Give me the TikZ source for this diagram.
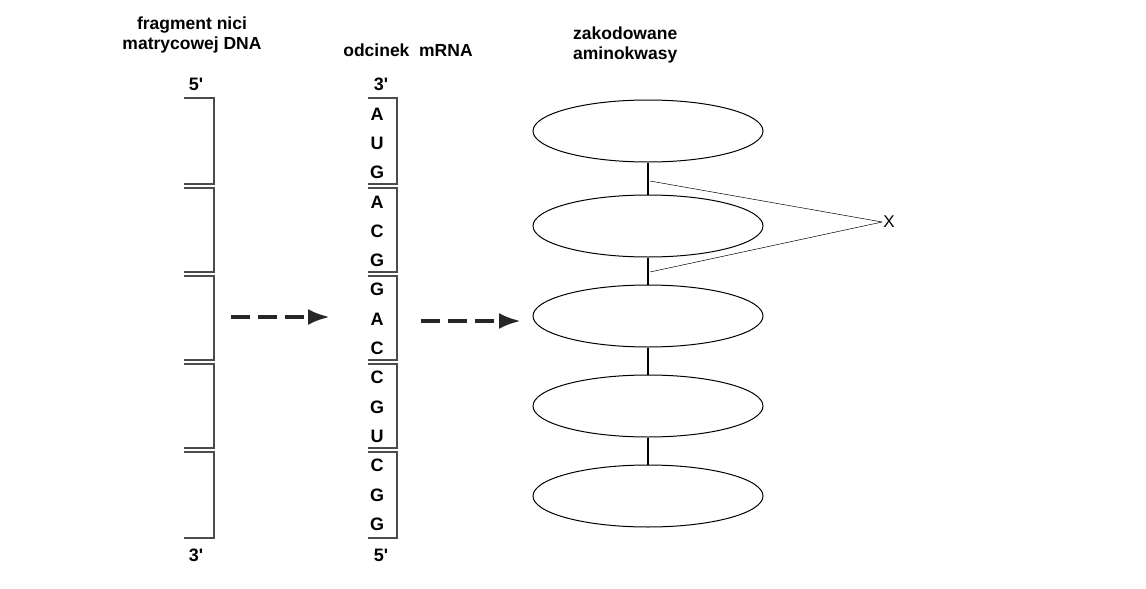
\documentclass[tikz,border=0pt]{standalone}
\usepackage{fontspec}
\setmainfont{Liberation Sans}
\usetikzlibrary{arrows.meta,shapes.geometric}
\begin{document}
\begin{tikzpicture}[x=1pt,y=-1pt,
  lbl/.style={font=\bfseries\fontsize{17.5}{20}\selectfont, inner sep=0pt, align=center},
  base/.style={font=\bfseries\fontsize{18}{20}\selectfont, inner sep=0pt},
  br/.style={draw=black!70, line width=1.1pt},
  ov/.style={draw, ellipse, line width=1pt, minimum width=230pt, minimum height=62pt, inner sep=0pt},
  link/.style={line width=1.6pt},
  arr/.style={line width=4pt, black!85, dash pattern=on 19pt off 8pt, -{Latex[length=22pt,width=16pt]}}]
\useasboundingbox (0,0) rectangle (1146,589);
\node[lbl] (t1) at (192,35) {fragment nici\\matrycowej DNA};
\node[lbl] (t2) at (408,50) {odcinek\ \ mRNA};
\node[lbl, align=left, anchor=west] (t3) at (573,45) {zakodowane\\aminokwasy};
\node[base] (d5) at (196,84) {5\textquotesingle};
\node[base] (d3) at (196,555) {3\textquotesingle};
\node[base] (m3) at (381,84) {3\textquotesingle};
\node[base] (m5) at (381,555) {5\textquotesingle};
\foreach \i in {0,...,4}{
  \pgfmathsetmacro{\ya}{98+\i*88+(\i>0?2:0)}
  \pgfmathsetmacro{\yb}{186+\i*88-(\i<4?2:0)}
  \draw[br] (184,\ya) -| (214,\yb) -- (184,\yb);
  \draw[br] (368,\ya) -| (397,\yb) -- (368,\yb);
}
\foreach \l [count=\k from 0] in {A,U,G,A,C,G,G,A,C,C,G,U,C,G,G}{
  \node[base] (n\k) at (377,{114+\k*29.3}) {\l};
}
\foreach \y [count=\k] in {131,226,316,406,496}{
  \node[ov] (e\k) at (648,\y) {};
}
\foreach \a/\b in {1/2,2/3,3/4,4/5}{\draw[link] (e\a.south) -- (e\b.north);}
\coordinate (c1) at (650,181);
\coordinate (c2) at (650,272);
\node[font=\fontsize{17}{19}\selectfont, inner sep=1pt] (X) at (889,222) {X};
\draw[line width=0.5pt] (c1) -- (X.west);
\draw[line width=0.5pt] (c2) -- (X.west);
\coordinate (a1s) at (231,317); \coordinate (a1e) at (330,317);
\coordinate (a2s) at (421,321); \coordinate (a2e) at (521,321);
\draw[arr] (a1s) -- (a1e);
\draw[arr] (a2s) -- (a2e);
\end{tikzpicture}
\end{document}
